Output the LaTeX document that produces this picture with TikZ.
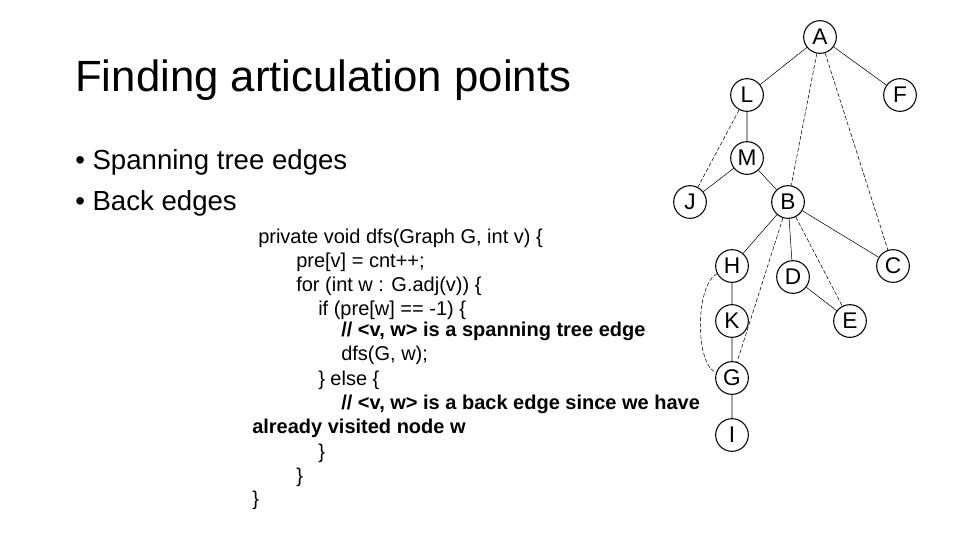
\documentclass[tikz,border=0pt]{standalone}
\usepackage{fontspec}
\setmainfont{Liberation Sans}
\begin{document}
\begin{tikzpicture}[x=0.75pt,y=-0.75pt,
    vertex/.style={circle,draw,thick,inner sep=0pt,minimum size=24.5pt,font=\fontsize{17}{17}\selectfont},
    tree/.style={draw},
    back/.style={draw,dashed,dash pattern=on 3pt off 1.5pt},
    codeline/.style={anchor=west,inner sep=0pt,font=\fontsize{15}{15}\selectfont}]
\useasboundingbox (0,0) rectangle (960,540);
% title and bullets
\node[anchor=west,inner sep=0pt,font=\fontsize{32.8}{34}\selectfont] (title) at (75,80) {Finding articulation points};
\node[anchor=west,inner sep=0pt,font=\fontsize{20.7}{22}\selectfont] (b1) at (75,162) {• Spanning tree edges};
\node[anchor=west,inner sep=0pt,font=\fontsize{20.7}{22}\selectfont] (b2) at (75,203) {• Back edges};
% code
\node[codeline] (c1) at (258,238) {private void dfs(Graph G, int v) \{};
\node[codeline] (c2) at (296,262) {pre[v] = cnt++;};
\node[codeline] (c3) at (296,286) {for (int w : G.adj(v)) \{};
\node[codeline] (c4) at (318,310) {if (pre[w] == -1) \{};
\node[codeline,font=\fontsize{15}{15}\selectfont\bfseries] (c5) at (341,331) {// <v, w> is a spanning tree edge};
\node[codeline] (c6) at (341,355) {dfs(G, w);};
\node[codeline] (c7) at (318,380) {\} else \{};
\node[codeline,font=\fontsize{15}{15}\selectfont\bfseries] (c8) at (341,404) {// <v, w> is a back edge since we have};
\node[codeline,font=\fontsize{15}{15}\selectfont\bfseries] (c9) at (252,428) {already visited node w};
\node[codeline] (c10) at (318,453) {\}};
\node[codeline] (c11) at (296,477) {\}};
\node[codeline] (c12) at (252,500) {\}};
% tree
\node[vertex] (A) at (820,37) {A};
\node[vertex] (L) at (747,95) {L};
\node[vertex] (F) at (900,95) {F};
\node[vertex] (M) at (747,158) {M};
\node[vertex] (J) at (690,202) {J};
\node[vertex] (B) at (788,202) {B};
\node[vertex] (H) at (732,266) {H};
\node[vertex] (D) at (793,277) {D};
\node[vertex] (C) at (893,266) {C};
\node[vertex] (K) at (732,321) {K};
\node[vertex] (E) at (850,321) {E};
\node[vertex] (G) at (732,378) {G};
\node[vertex] (I) at (732,435) {I};
\path[tree] (A) -- (L) (A) -- (F) (L) -- (M) (M) -- (J) (M) -- (B)
  (B) -- (H) (B) -- (D) (B) -- (C) (H) -- (K) (K) -- (G) (D) -- (E) (G) -- (I);
\path[back] (A) -- (B) (A) -- (C) (L) -- (J) (B) -- (G) (B) -- (E);
\draw[back] (H) .. controls (695,285) and (695,365) .. (G);
\end{tikzpicture}
\end{document}
